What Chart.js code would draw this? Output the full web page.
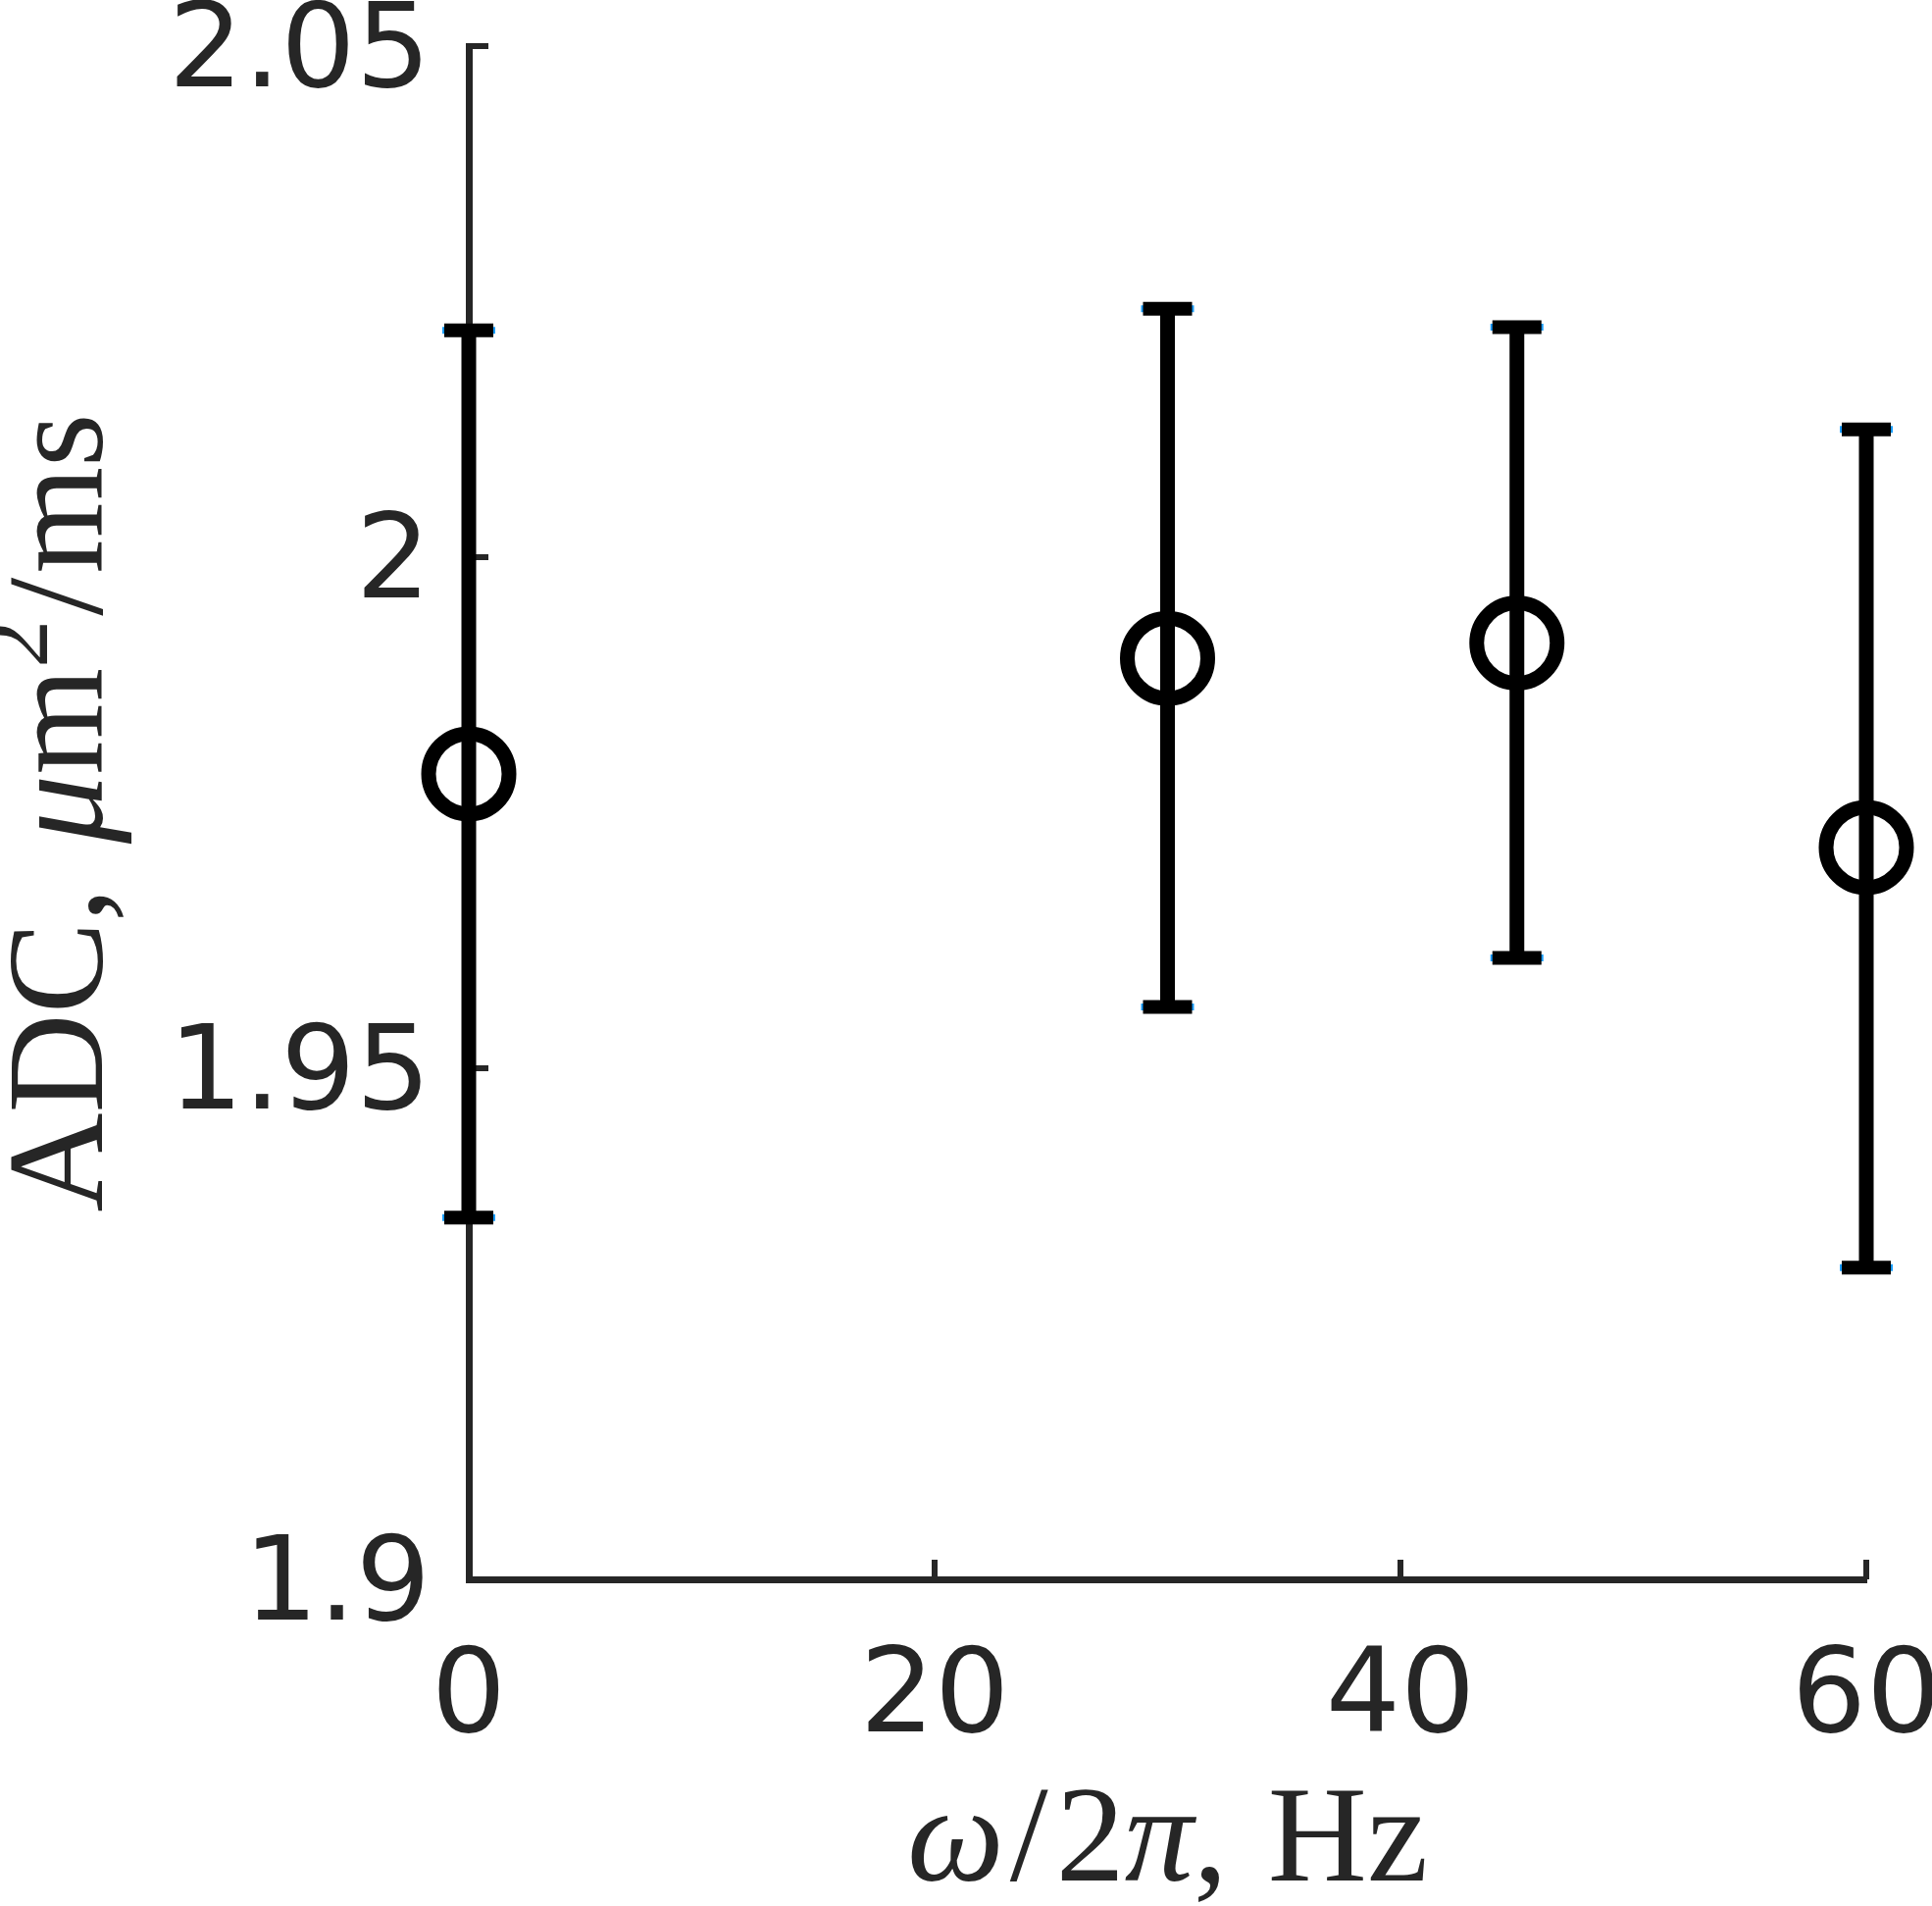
<!DOCTYPE html>
<html>
<head>
<meta charset="utf-8">
<script src="https://cdn.jsdelivr.net/npm/chart.js@4.4.0/dist/chart.umd.min.js"></script>
<style>
html, body { margin: 0; padding: 0; background: #fff; }
</style>
</head>
<body>
<canvas id="adcChart" width="1970" height="1943"></canvas>
<script>
// frequency (Hz) and ADC (um^2/ms) with error bar ends
const freqs = [0, 30, 45, 60];
const adcMean = [1.9788, 1.9901, 1.9916, 1.9716];
const adcLow = [1.9354, 1.9560, 1.9608, 1.9305];
const adcHigh = [2.0222, 2.0243, 2.0225, 2.0125];

const xTicks = [0, 20, 40, 60];
const xTickLabels = ['0', '20', '40', '60'];
const yTicks = [1.9, 1.95, 2, 2.05];
const yTickLabels = ['1.9', '1.95', '2', '2.05'];

const ink = '#262626';
const titleSize = 140;

// gap = extra space after the piece, in px
const xTitle = [
    { t: 'ω', i: true, gap: 6 },
    { t: '/', gap: 8 },
    { t: '2' },
    { t: 'π', i: true },
    { t: ',', gap: 6 },
    { t: ' Hz' }
];
const yTitle = [
    { t: 'ADC,', gap: 10 },
    { t: ' ' },
    { t: 'μ', i: true },
    { t: 'm' },
    { t: '2', sup: true, gap: 4 },
    { t: '/', gap: 4 },
    { t: 'ms' }
];

function partFont(p){
    const size = p.sup ? titleSize * 0.7 : titleSize;
    return (p.i ? 'italic ' : '') + size + 'px "Liberation Serif"';
}

function drawRich(ctx, parts){
    let total = 0;
    parts.forEach(p => {
        ctx.font = partFont(p);
        p.w = ctx.measureText(p.t).width + (p.gap || 0);
        total += p.w;
    });
    let x = -total / 2;
    parts.forEach(p => {
        ctx.font = partFont(p);
        ctx.fillText(p.t, x, p.sup ? -titleSize * 0.4 : 0);
        x += p.w;
    });
}

// inward tick marks + the latex-ish axis titles
const axisExtras = {
    id: 'axisExtras',

    beforeDatasetsDraw(chart){
        const ctx = chart.ctx;
        const area = chart.chartArea;
        const xs = chart.scales.x;
        const ys = chart.scales.y;

        ctx.save();
        ctx.strokeStyle = ink;
        ctx.lineWidth = 6;
        ctx.beginPath();
        xTicks.forEach(v => {
            const px = xs.getPixelForValue(v);
            ctx.moveTo(px, area.bottom);
            ctx.lineTo(px, area.bottom - 20);
        });
        yTicks.forEach(v => {
            const py = ys.getPixelForValue(v);
            ctx.moveTo(area.left, py);
            ctx.lineTo(area.left + 20, py);
        });
        ctx.stroke();
        ctx.restore();
    },

    afterDraw(chart){
        const ctx = chart.ctx;
        const area = chart.chartArea;

        ctx.save();
        ctx.fillStyle = ink;
        ctx.textBaseline = 'alphabetic';
        ctx.textAlign = 'left';

        ctx.save();
        ctx.translate((area.left + area.right) / 2, 1917);
        drawRich(ctx, xTitle);
        ctx.restore();

        ctx.save();
        ctx.translate(104, (area.top + area.bottom) / 2);
        ctx.rotate(-Math.PI / 2);
        drawRich(ctx, yTitle);
        ctx.restore();

        ctx.restore();
    }
};

const bars = freqs.map((f, i) => ({
    type: 'line',
    data: [
        { x: f, y: adcLow[i] },
        { x: f, y: adcHigh[i] }
    ],
    borderColor: '#000',
    borderWidth: 15,
    borderCapStyle: 'butt',
    pointRadius: 0,
    clip: false
}));

const capPoints = freqs.map((f, i) => ({ x: f, y: adcLow[i] }))
    .concat(freqs.map((f, i) => ({ x: f, y: adcHigh[i] })));

// little blue tips peeking out of the caps (as in the source figure)
const capTips = {
    type: 'scatter',
    data: capPoints,
    pointStyle: 'line',
    pointRadius: 27,
    borderWidth: 7,
    borderColor: '#1a9dff',
    clip: false
};

const caps = {
    type: 'scatter',
    data: capPoints,
    pointStyle: 'line',
    pointRadius: 25,
    borderWidth: 14,
    borderColor: '#000',
    clip: false
};

const markers = {
    type: 'scatter',
    data: freqs.map((f, i) => ({ x: f, y: adcMean[i] })),
    pointStyle: 'circle',
    pointRadius: 41,
    borderWidth: 15,
    borderColor: '#000',
    backgroundColor: 'rgba(0,0,0,0)',
    clip: false
};

const tickFont = { family: 'DejaVu Sans', size: 120 };

new Chart(
    document.getElementById('adcChart'),
    {
        type: 'scatter',
        data: {
            // drawn last-first, so list top layer first
            datasets: [markers, caps, capTips, ...bars]
        },
        options: {
            responsive: false,
            animation: false,
            events: [],
            layout: {
                autoPadding: false,
                padding: { top: 47, right: 67, left: 0, bottom: 0 }
            },
            plugins: {
                legend: { display: false },
                tooltip: { enabled: false }
            },
            scales: {
                x: {
                    type: 'linear',
                    min: 0,
                    max: 60,
                    afterBuildTicks: s => {
                        s.ticks = xTicks.map(v => ({ value: v }));
                    },
                    ticks: {
                        callback: (v, i) => xTickLabels[i],
                        font: tickFont,
                        color: ink,
                        padding: 44,
                        maxRotation: 0,
                        autoSkip: false
                    },
                    grid: { display: false },
                    border: { color: ink, width: 7 },
                    afterFit: s => {
                        s.height = 333;
                        s.paddingLeft = 0;
                        s.paddingRight = 0;
                    }
                },
                y: {
                    type: 'linear',
                    min: 1.9,
                    max: 2.05,
                    afterBuildTicks: s => {
                        s.ticks = yTicks.map(v => ({ value: v }));
                    },
                    ticks: {
                        callback: (v, i) => yTickLabels[i],
                        font: tickFont,
                        color: ink,
                        padding: 31,
                        labelOffset: 10,
                        autoSkip: false
                    },
                    grid: { display: false },
                    border: { color: ink, width: 7 },
                    afterFit: s => {
                        s.width = 478;
                        s.paddingTop = 0;
                        s.paddingBottom = 0;
                    }
                }
            }
        },
        plugins: [axisExtras]
    }
);
</script>
</body>
</html>
